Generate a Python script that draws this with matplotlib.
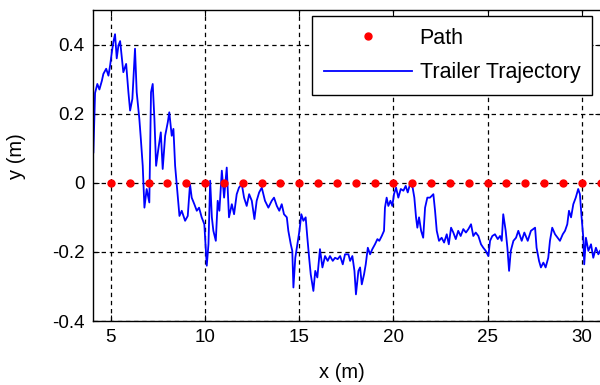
import numpy as np
import matplotlib
matplotlib.use("Agg")
import matplotlib.pyplot as plt

# reference path (red dots, one per metre along y = 0)
path_x = list(range(5, 32))
path_y = [0.0] * len(path_x)

# trailer trajectory
traj_x = [4.07, 4.11, 4.16, 4.28, 4.39, 4.52, 4.60, 4.75, 4.87, 4.96, 5.05, 5.13, 5.22, 5.31, 5.40,
          5.49, 5.58, 5.66, 5.81, 5.93, 6.02, 6.14, 6.28, 6.37, 6.51, 6.59, 6.69, 6.78, 6.90, 7.04,
          7.13, 7.22, 7.31, 7.40, 7.52, 7.65, 7.75, 7.88, 8.02, 8.10, 8.23, 8.32, 8.41, 8.53, 8.64,
          8.76, 8.94, 9.08, 9.20, 9.29, 9.43, 9.56, 9.68, 9.82, 9.96, 10.09, 10.18, 10.27, 10.36, 10.44,
          10.57, 10.67, 10.76, 10.89, 11.01, 11.15, 11.27, 11.42, 11.54, 11.68, 11.80, 11.95, 12.07, 12.21, 12.34,
          12.48, 12.62, 12.74, 12.87, 13.01, 13.18, 13.36, 13.54, 13.66, 13.81, 13.94, 14.07, 14.19, 14.34, 14.42,
          14.55, 14.63, 14.69, 14.79, 14.90, 15.01, 15.11, 15.22, 15.34, 15.43, 15.54, 15.61, 15.75, 15.85, 15.96,
          16.10, 16.23, 16.37, 16.51, 16.63, 16.78, 16.90, 17.04, 17.17, 17.31, 17.43, 17.61, 17.70, 17.82, 17.93,
          18.01, 18.14, 18.23, 18.32, 18.44, 18.53, 18.64, 18.76, 18.88, 19.02, 19.15, 19.25, 19.38, 19.50, 19.55,
          19.64, 19.73, 19.84, 19.94, 20.03, 20.14, 20.26, 20.39, 20.53, 20.65, 20.76, 20.88, 21.02, 21.11, 21.20,
          21.27, 21.36, 21.47, 21.58, 21.68, 21.80, 21.94, 22.12, 22.21, 22.30, 22.42, 22.56, 22.69, 22.83, 22.94,
          23.06, 23.18, 23.31, 23.44, 23.57, 23.71, 23.85, 23.98, 24.12, 24.24, 24.37, 24.51, 24.65, 24.77, 24.90,
          25.04, 25.13, 25.25, 25.39, 25.54, 25.66, 25.75, 25.83, 25.96, 26.05, 26.14, 26.23, 26.37, 26.51, 26.63,
          26.81, 26.95, 27.13, 27.30, 27.52, 27.60, 27.73, 27.83, 27.96, 28.08, 28.22, 28.31, 28.43, 28.58, 28.72,
          28.84, 28.99, 29.11, 29.23, 29.32, 29.43, 29.55, 29.68, 29.81, 29.90, 29.99, 30.08, 30.13, 30.22, 30.35,
          30.49, 30.61, 30.75, 30.88, 30.97]
traj_y = [0.088, 0.165, 0.260, 0.286, 0.270, 0.295, 0.315, 0.330, 0.310, 0.340, 0.378, 0.407, 0.430, 0.360, 0.397,
          0.410, 0.363, 0.320, 0.344, 0.262, 0.209, 0.243, 0.388, 0.262, 0.185, 0.127, 0.049, -0.072, -0.018, -0.057,
          0.262, 0.286, 0.185, 0.049, 0.098, 0.146, 0.040, 0.136, 0.175, 0.204, 0.136, 0.156, 0.049, -0.028, -0.096,
          -0.081, -0.110, -0.096, -0.004, -0.043, -0.062, -0.081, -0.072, -0.100, -0.120, -0.240, -0.178, 0.006, -0.100, -0.139,
          -0.168, -0.052, -0.081, 0.035, -0.043, 0.044, -0.100, -0.062, -0.091, -0.033, -0.014, -0.004, -0.043, -0.067, -0.033,
          -0.052, -0.105, -0.052, -0.028, -0.014, -0.052, -0.072, -0.052, -0.043, -0.067, -0.081, -0.062, -0.091, -0.100, -0.139,
          -0.178, -0.197, -0.303, -0.217, -0.178, -0.139, -0.091, -0.110, -0.100, -0.159, -0.226, -0.265, -0.313, -0.255, -0.274,
          -0.192, -0.245, -0.212, -0.226, -0.212, -0.226, -0.217, -0.221, -0.212, -0.236, -0.207, -0.207, -0.226, -0.212, -0.255,
          -0.323, -0.255, -0.245, -0.294, -0.265, -0.236, -0.188, -0.207, -0.192, -0.178, -0.163, -0.168, -0.154, -0.139, -0.072,
          -0.043, -0.067, -0.052, -0.067, -0.033, -0.014, -0.043, -0.018, -0.023, -0.009, -0.028, -0.004, -0.014, -0.043, -0.100,
          -0.130, -0.100, -0.139, -0.159, -0.072, -0.043, -0.043, -0.033, -0.081, -0.139, -0.168, -0.159, -0.173, -0.149, -0.178,
          -0.130, -0.144, -0.163, -0.139, -0.154, -0.134, -0.144, -0.134, -0.120, -0.154, -0.144, -0.154, -0.178, -0.188, -0.197,
          -0.212, -0.168, -0.154, -0.149, -0.163, -0.154, -0.168, -0.091, -0.139, -0.188, -0.255, -0.197, -0.168, -0.159, -0.139,
          -0.168, -0.144, -0.168, -0.139, -0.130, -0.188, -0.226, -0.245, -0.231, -0.245, -0.217, -0.168, -0.130, -0.149, -0.159,
          -0.168, -0.149, -0.139, -0.120, -0.081, -0.100, -0.062, -0.043, -0.018, -0.033, -0.100, -0.159, -0.236, -0.159, -0.197,
          -0.178, -0.217, -0.188, -0.207, -0.197]

FS = 13.5
plt.rcParams['font.family'] = ['Liberation Sans', 'DejaVu Sans']

fig = plt.figure(figsize=(6, 3.85), dpi=100)
ax = fig.add_axes([93 / 600, 1 - 321 / 385, (601 - 93) / 600, (321 - 10) / 385])

ax.plot(path_x, path_y, linestyle='none', marker='o', markersize=5,
        color='red', label='Path', zorder=3)
ax.plot(traj_x, traj_y, color='blue', lw=1.3, label='Trailer Trajectory', zorder=2)

ax.set_xlim(4.05, 31.02)
ax.set_ylim(-0.4, 0.5)
ax.set_xticks([5, 10, 15, 20, 25, 30])
ax.set_yticks([-0.4, -0.2, 0, 0.2, 0.4])
ax.set_yticklabels(['-0.4', '-0.2', '0', '0.2', '0.4'])
ax.grid(True, color='black', linestyle=(0, (3.5, 3)), lw=0.9)
ax.tick_params(direction='in', length=4.5, width=0.8, top=True, right=True,
               labelsize=FS, pad=6)
for s in ax.spines.values():
    s.set_linewidth(1.0)

ax.set_xlabel('x (m)', fontsize=14.5)
ax.set_ylabel('y (m)', fontsize=14.5)
ax.xaxis.set_label_coords((342 - 93) / (601 - 93), -0.135)
ax.yaxis.set_label_coords(-0.132, 0.53)

leg = ax.legend(loc='upper right', bbox_to_anchor=(592 / 600, 1 - 16 / 385),
                bbox_transform=fig.transFigure, borderaxespad=0, fontsize=15.5,
                fancybox=False, framealpha=1, edgecolor='black', numpoints=1,
                handlelength=4.1, handletextpad=0.33, labelspacing=0.62, borderpad=0.55)
leg.get_frame().set_linewidth(1.0)

fig.savefig('out.png', dpi=100)
